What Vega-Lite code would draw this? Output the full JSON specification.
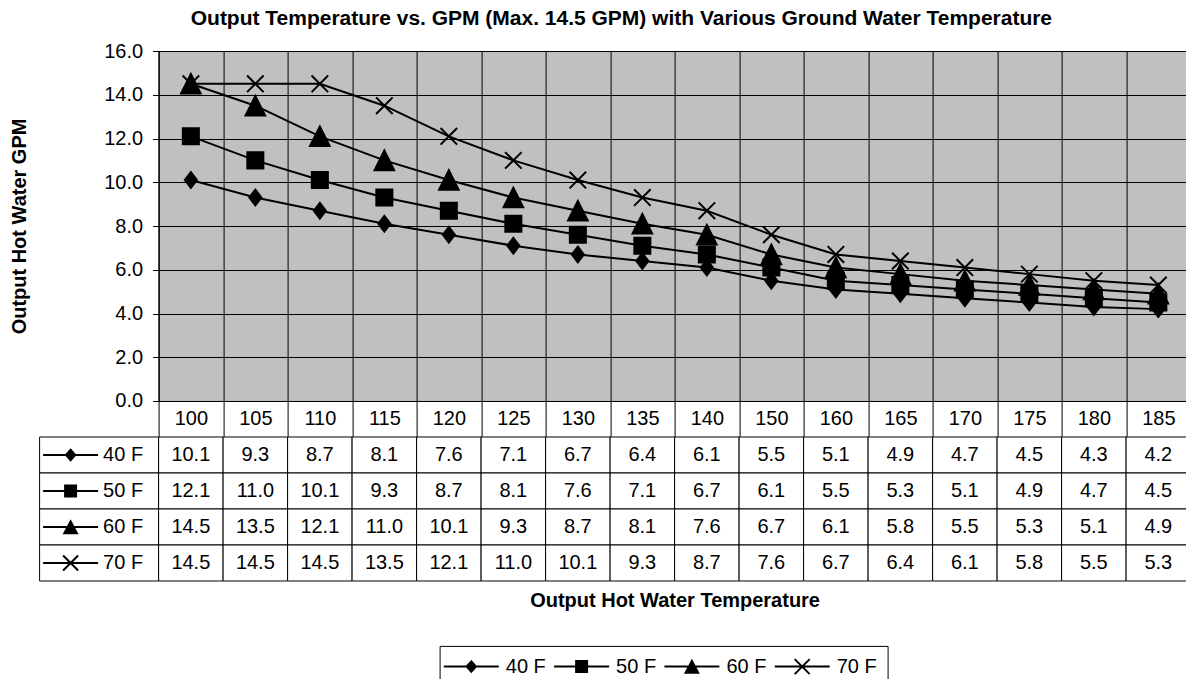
{
  "$schema": "https://vega.github.io/schema/vega-lite/v6.json",
  "padding": {"left": 8.6, "top": 7, "right": 0, "bottom": 0},
  "config": {
    "font": "Liberation Sans",
    "view": {"stroke": null},
    "axis": {"labelColor": "#000", "titleColor": "#000", "labelFont": "Liberation Sans", "titleFont": "Liberation Sans"}
  },
  "title": {
    "text": "Output Temperature vs. GPM (Max. 14.5 GPM) with Various Ground Water Temperature",
    "fontSize": 21,
    "fontWeight": "bold",
    "color": "#000",
    "anchor": "middle",
    "frame": "bounds",
    "offset": 12,
    "dx": 21
  },
  "datasets": {
    "gpm": [
      {"temp": 100, "series": "40 F", "gpm": 10.1}, {"temp": 105, "series": "40 F", "gpm": 9.3}, {"temp": 110, "series": "40 F", "gpm": 8.7}, {"temp": 115, "series": "40 F", "gpm": 8.1},
      {"temp": 120, "series": "40 F", "gpm": 7.6}, {"temp": 125, "series": "40 F", "gpm": 7.1}, {"temp": 130, "series": "40 F", "gpm": 6.7}, {"temp": 135, "series": "40 F", "gpm": 6.4},
      {"temp": 140, "series": "40 F", "gpm": 6.1}, {"temp": 150, "series": "40 F", "gpm": 5.5}, {"temp": 160, "series": "40 F", "gpm": 5.1}, {"temp": 165, "series": "40 F", "gpm": 4.9},
      {"temp": 170, "series": "40 F", "gpm": 4.7}, {"temp": 175, "series": "40 F", "gpm": 4.5}, {"temp": 180, "series": "40 F", "gpm": 4.3}, {"temp": 185, "series": "40 F", "gpm": 4.2},
      {"temp": 100, "series": "50 F", "gpm": 12.1}, {"temp": 105, "series": "50 F", "gpm": 11.0}, {"temp": 110, "series": "50 F", "gpm": 10.1}, {"temp": 115, "series": "50 F", "gpm": 9.3},
      {"temp": 120, "series": "50 F", "gpm": 8.7}, {"temp": 125, "series": "50 F", "gpm": 8.1}, {"temp": 130, "series": "50 F", "gpm": 7.6}, {"temp": 135, "series": "50 F", "gpm": 7.1},
      {"temp": 140, "series": "50 F", "gpm": 6.7}, {"temp": 150, "series": "50 F", "gpm": 6.1}, {"temp": 160, "series": "50 F", "gpm": 5.5}, {"temp": 165, "series": "50 F", "gpm": 5.3},
      {"temp": 170, "series": "50 F", "gpm": 5.1}, {"temp": 175, "series": "50 F", "gpm": 4.9}, {"temp": 180, "series": "50 F", "gpm": 4.7}, {"temp": 185, "series": "50 F", "gpm": 4.5},
      {"temp": 100, "series": "60 F", "gpm": 14.5}, {"temp": 105, "series": "60 F", "gpm": 13.5}, {"temp": 110, "series": "60 F", "gpm": 12.1}, {"temp": 115, "series": "60 F", "gpm": 11.0},
      {"temp": 120, "series": "60 F", "gpm": 10.1}, {"temp": 125, "series": "60 F", "gpm": 9.3}, {"temp": 130, "series": "60 F", "gpm": 8.7}, {"temp": 135, "series": "60 F", "gpm": 8.1},
      {"temp": 140, "series": "60 F", "gpm": 7.6}, {"temp": 150, "series": "60 F", "gpm": 6.7}, {"temp": 160, "series": "60 F", "gpm": 6.1}, {"temp": 165, "series": "60 F", "gpm": 5.8},
      {"temp": 170, "series": "60 F", "gpm": 5.5}, {"temp": 175, "series": "60 F", "gpm": 5.3}, {"temp": 180, "series": "60 F", "gpm": 5.1}, {"temp": 185, "series": "60 F", "gpm": 4.9},
      {"temp": 100, "series": "70 F", "gpm": 14.5}, {"temp": 105, "series": "70 F", "gpm": 14.5}, {"temp": 110, "series": "70 F", "gpm": 14.5}, {"temp": 115, "series": "70 F", "gpm": 13.5},
      {"temp": 120, "series": "70 F", "gpm": 12.1}, {"temp": 125, "series": "70 F", "gpm": 11.0}, {"temp": 130, "series": "70 F", "gpm": 10.1}, {"temp": 135, "series": "70 F", "gpm": 9.3},
      {"temp": 140, "series": "70 F", "gpm": 8.7}, {"temp": 150, "series": "70 F", "gpm": 7.6}, {"temp": 160, "series": "70 F", "gpm": 6.7}, {"temp": 165, "series": "70 F", "gpm": 6.4},
      {"temp": 170, "series": "70 F", "gpm": 6.1}, {"temp": 175, "series": "70 F", "gpm": 5.8}, {"temp": 180, "series": "70 F", "gpm": 5.5}, {"temp": 185, "series": "70 F", "gpm": 5.3}
    ],
    "series": [{"series": "40 F"}, {"series": "50 F"}, {"series": "60 F"}, {"series": "70 F"}]
  },
  "columns": 2,
  "spacing": {"row": 36, "column": 0},
  "bounds": "flush",
  "resolve": {"scale": {"shape": "independent"}, "legend": {"shape": "independent"}},
  "concat": [
    {
      "width": 119,
      "height": 350,
      "data": {"values": []},
      "mark": {"type": "point"}
    },
    {
      "width": 1032,
      "height": 350,
      "data": {"name": "gpm"},
      "view": {"fill": "#C0C0C0", "stroke": "#808080"},
      "encoding": {
        "x": {
          "field": "temp",
          "type": "ordinal",
          "scale": {"paddingInner": 0, "paddingOuter": 0},
          "axis": {
            "title": null,
            "labelFontSize": 20,
            "labelAngle": 0,
            "labelBaseline": "middle",
            "labelPadding": -18,
            "tickBand": "extent",
            "tickSize": 36,
            "tickColor": "#000",
            "domainColor": "#000",
            "grid": true,
            "gridColor": "#000",
            "gridOpacity": 1
          }
        },
        "y": {
          "field": "gpm",
          "type": "quantitative",
          "scale": {"domain": [0, 16], "nice": false},
          "axis": {
            "values": [0, 2, 4, 6, 8, 10, 12, 14, 16],
            "format": ".1f",
            "labelFontSize": 20,
            "labelPadding": 10,
            "tickSize": 6,
            "tickColor": "#000",
            "domainColor": "#000",
            "grid": true,
            "gridColor": "#000",
            "gridOpacity": 1,
            "title": "Output Hot Water GPM",
            "titleFontSize": 20,
            "titleFontWeight": "bold",
            "titlePadding": 74
          }
        }
      },
      "layer": [
        {
          "mark": {"type": "line", "stroke": "#000", "strokeWidth": 2},
          "encoding": {"detail": {"field": "series", "type": "nominal"}}
        },
        {
          "mark": {"type": "point", "filled": true, "fill": "#000", "stroke": "#000", "strokeWidth": 2, "size": 324, "opacity": 1},
          "encoding": {
            "shape": {
              "field": "series",
              "type": "nominal",
              "scale": {
                "domain": ["40 F", "50 F", "60 F", "70 F"],
                "range": [
                  "M0,-0.87L0.67,0L0,0.87L-0.67,0Z",
                  "M-0.89,-0.89H0.89V0.89H-0.89Z",
                  "M0,-1.09L1.09,1.09L-1.09,1.09Z",
                  "M-0.92,-0.92L0.92,0.92M-0.92,0.92L0.92,-0.92"
                ]
              },
              "legend": null
            }
          }
        }
      ]
    },
    {
      "width": 119,
      "height": 144,
      "data": {"name": "series"},
      "encoding": {
        "y": {"field": "series", "type": "nominal", "scale": {"paddingInner": 0, "paddingOuter": 0}, "axis": null}
      },
      "layer": [
        {"mark": {"type": "rect", "fill": "#fff", "stroke": "#000", "strokeWidth": 1}},
        {
          "mark": {"type": "point", "filled": true, "fill": "#000", "strokeWidth": 0, "size": 144, "opacity": 1, "xOffset": -28.5},
          "encoding": {
            "shape": {
              "field": "series",
              "type": "nominal",
              "scale": {
                "domain": ["40 F", "50 F", "60 F", "70 F"],
                "range": [
                  "M-4.58,-0.17H4.58V0.17H-4.58ZM0,-1.11L1,0L0,1.11L-1,0Z",
                  "M-4.58,-0.17H4.58V0.17H-4.58ZM-1.08,-1.08H1.08V1.08H-1.08Z",
                  "M-4.58,-0.17H4.58V0.17H-4.58ZM0,-1.3L1.33,1.2L-1.33,1.2Z",
                  "M-4.58,-0.17H4.58V0.17H-4.58ZM-1.132,-1.368L1.368,1.132L1.132,1.368L-1.368,-1.132ZM-1.132,1.368L-1.368,1.132L1.132,-1.368L1.368,-1.132Z"
                ]
              },
              "legend": {
                "orient": "none",
                "legendX": 400,
                "legendY": 208.9,
                "direction": "horizontal",
                "title": null,
                "strokeColor": "#000",
                "padding": 10.7,
                "symbolSize": 144,
                "symbolStrokeWidth": 0,
                "symbolFillColor": "#000",
                "symbolOffset": 11,
                "labelOffset": 24.5,
                "labelFontSize": 20,
                "labelColor": "#000",
                "columnPadding": 7.3
              }
            }
          }
        },
        {
          "mark": {"type": "text", "align": "left", "baseline": "middle", "fontSize": 20, "color": "#000", "dx": 4},
          "encoding": {"text": {"field": "series", "type": "nominal"}}
        }
      ]
    },
    {
      "width": 1032,
      "height": 144,
      "data": {"name": "gpm"},
      "encoding": {
        "x": {
          "field": "temp",
          "type": "ordinal",
          "scale": {"paddingInner": 0, "paddingOuter": 0},
          "axis": {"labels": false, "ticks": false, "domain": false, "title": "Output Hot Water Temperature", "titleFontSize": 20, "titleFontWeight": "bold", "titlePadding": 9.4}
        },
        "y": {"field": "series", "type": "nominal", "scale": {"paddingInner": 0, "paddingOuter": 0}, "axis": null}
      },
      "layer": [
        {"mark": {"type": "rect", "fill": "#fff", "stroke": "#000", "strokeWidth": 1}},
        {
          "mark": {"type": "text", "fontSize": 20, "color": "#000", "baseline": "middle"},
          "encoding": {"text": {"field": "gpm", "type": "quantitative", "format": ".1f"}}
        }
      ]
    }
  ]
}
